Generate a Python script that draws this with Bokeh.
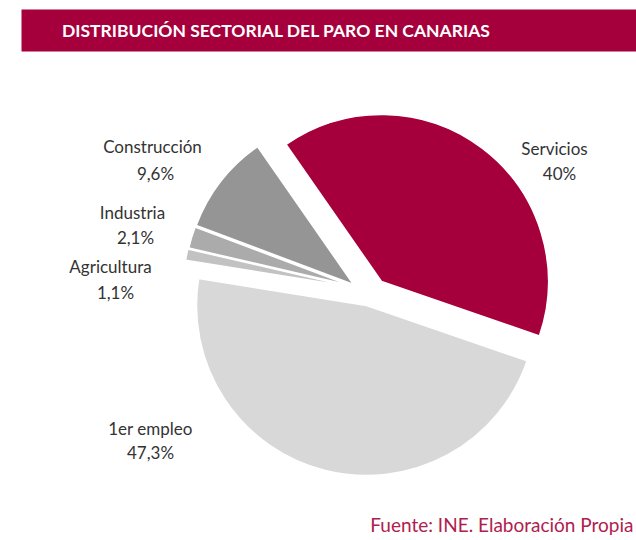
import numpy as np
from bokeh.plotting import figure
from bokeh.models import Range1d, ColumnDataSource
from bokeh.embed import file_html
from bokeh.resources import INLINE
from bokeh.core.properties import value

# ---------------- data ----------------
title = "DISTRIBUCIÓN SECTORIAL DEL PARO EN CANARIAS"
sectors = ["Servicios", "Construcción", "Industria", "Agricultura", "1er empleo"]
shares = [40.0, 9.6, 2.1, 1.1, 47.3]
share_labels = ["40%", "9,6%", "2,1%", "1,1%", "47,3%"]
source_note = "Fuente: INE. Elaboración Propia"

# ---------------- style / layout ----------------
W, H = 636, 540
colors = ["#A6003C", "#959595", "#ABABAB", "#C2C2C2", "#D8D8D8"]
start_deg = -19.0
# slice centres (page px) = exploded offsets, and radii
centres = [(381, 281), (353, 284), (350, 285), (349, 286), (366, 305)]
radii = [167, 168, 166, 166, 170]
# label positions (page px): name line, value line
name_pos = [(554, 148), (152, 146), (132, 212), (110, 266), (150, 428)]
val_pos = [(559, 173), (155, 173), (135, 237), (115, 292), (150, 452)]


def gx(x):
    return x


def gy(y):
    return H - y


frac = np.array(shares) / np.sum(shares)
ends = np.radians(start_deg) + 2 * np.pi * np.cumsum(frac)
starts = ends - 2 * np.pi * frac

src = ColumnDataSource(dict(
    x=[gx(c[0]) for c in centres],
    y=[gy(c[1]) for c in centres],
    r=radii,
    start=starts,
    end=ends,
    color=colors,
))

p = figure(width=W, height=H, x_range=Range1d(0, W), y_range=Range1d(0, H),
           x_axis_location=None, y_axis_location=None, toolbar_location=None,
           output_backend="svg", min_border=0)
p.grid.visible = False
p.outline_line_color = None
p.background_fill_color = "white"

p.wedge(x="x", y="y", radius="r", start_angle="start", end_angle="end",
        fill_color="color", line_color="white", line_width=1.5, source=src)

# title bar
p.quad(left=[gx(21)], right=[gx(660)], top=[gy(9)], bottom=[gy(51)],
       fill_color="#A6003C", line_color=None)
p.text(x=[gx(276)], y=[gy(30)], text=[title], text_color="white",
       text_font=value("Lato"), text_font_style="bold", text_font_size="17.5px",
       text_align="center", text_baseline="middle")

lab = ColumnDataSource(dict(
    nx=[gx(a[0]) for a in name_pos], ny=[gy(a[1]) for a in name_pos],
    vx=[gx(a[0]) for a in val_pos], vy=[gy(a[1]) for a in val_pos],
    name=sectors, val=share_labels,
))
p.text(x="nx", y="ny", text="name", source=lab, text_color="#333333",
       text_font=value("Lato"), text_font_size="17px",
       text_align="center", text_baseline="middle")
p.text(x="vx", y="vy", text="val", source=lab, text_color="#333333",
       text_font=value("Lato"), text_font_size="17px",
       text_align="center", text_baseline="middle")

p.text(x=[gx(633)], y=[gy(524)], text=[source_note], text_color="#B0204E",
       text_font=value("Lato"), text_font_size="19px",
       text_align="right", text_baseline="middle")

open("out.html", "w").write(file_html(p, INLINE))
